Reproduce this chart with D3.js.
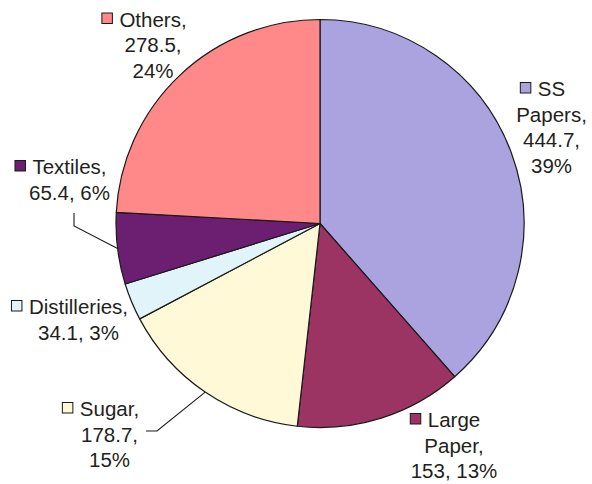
<!DOCTYPE html>
<html>
<head>
<meta charset="utf-8">
<script src="https://cdn.jsdelivr.net/npm/d3@7/dist/d3.min.js"></script>
<style>
  html, body { margin: 0; padding: 0; background: #fff; }
  svg { display: block; }
  text { font-family: "Liberation Sans", Arial, Helvetica, sans-serif; fill: #231f20; }
</style>
</head>
<body>
<svg id="chart" width="592" height="484"></svg>
<script>
// Sectors, clockwise from 12 o'clock
const categories = ["SS Papers", "Large Paper", "Sugar", "Distilleries", "Textiles", "Others"];
const values = [444.7, 153, 178.7, 34.1, 65.4, 278.5];
const colors = ["#aba3e0", "#9b3363", "#fff9d8", "#e1f4fa", "#6c1f70", "#ff8888"];
// Words per label line for each sector's "name, value, pct%" text
const lineBreaks = [[1, 1, 1, 1], [1, 1, 2], [1, 1, 1], [1, 2], [1, 2], [1, 1, 1]];

// Label placement: centre x, first baseline y, leader polyline start (or null)
const labelLayout = [
  { x: 551.5, y: 96,  leader: null },
  { x: 454,   y: 427, leader: null },
  { x: 109.5, y: 416, leader: [[146, 431], [157, 431]] },
  { x: 78.5,  y: 314, leader: null },
  { x: 69.5,  y: 174, leader: [[74, 213], [74, 226]] },
  { x: 153,   y: 26.5, leader: null }
];

const W = 592, H = 484;
const cx = 320, cy = 223.5, R = 204;
const fontSize = 20.5, lineHeight = 25.6, keySize = 10.5, keyGap = 7;

const svg = d3.select("#chart");
const total = d3.sum(values);
const fmtPct = v => Math.round(v / total * 100) + "%";

const pie = d3.pie().sort(null).value(d => d.value).startAngle(0).endAngle(2 * Math.PI);
const arc = d3.arc().innerRadius(0).outerRadius(R);

const data = categories.map((c, i) => ({ name: c, value: values[i], color: colors[i], i }));
const arcs = pie(data);

const g = svg.append("g").attr("transform", `translate(${cx},${cy})`);

g.selectAll("path.slice")
  .data(arcs)
  .join("path")
  .attr("class", "slice")
  .attr("d", arc)
  .attr("fill", d => d.data.color)
  .attr("stroke", "#1a1a1a")
  .attr("stroke-width", 1.2)
  .attr("stroke-linejoin", "round");

// Point on the rim at the middle of a sector
function rimPoint(a) {
  const m = (a.startAngle + a.endAngle) / 2;
  return [cx + R * Math.sin(m), cy - R * Math.cos(m)];
}

// Leader lines
arcs.forEach((a, i) => {
  const lay = labelLayout[i];
  if (!lay.leader) return;
  const pts = lay.leader.concat([rimPoint(a)]);
  svg.append("path")
    .attr("d", d3.line()(pts))
    .attr("fill", "none")
    .attr("stroke", "#1a1a1a")
    .attr("stroke-width", 1.1);
});

// Labels with key squares
arcs.forEach((a, i) => {
  const d = a.data;
  const lay = labelLayout[i];
  const words = `${d.name}, ${d.value}, ${fmtPct(d.value)}`.split(" ");
  const lines = [];
  let k = 0;
  lineBreaks[i].forEach(n => { lines.push(words.slice(k, k + n).join(" ")); k += n; });

  const lg = svg.append("g");
  const texts = lg.selectAll("text")
    .data(lines)
    .join("text")
    .attr("x", lay.x)
    .attr("y", (l, j) => lay.y + j * lineHeight)
    .attr("text-anchor", "middle")
    .attr("font-size", fontSize)
    .text(l => l);

  const first = texts.node().getBBox();
  lg.append("rect")
    .attr("x", first.x - keyGap - keySize)
    .attr("y", lay.y - 13.5)
    .attr("width", keySize)
    .attr("height", keySize)
    .attr("fill", d.color)
    .attr("stroke", "#1a1a1a")
    .attr("stroke-width", 1);
});
</script>
</body>
</html>
